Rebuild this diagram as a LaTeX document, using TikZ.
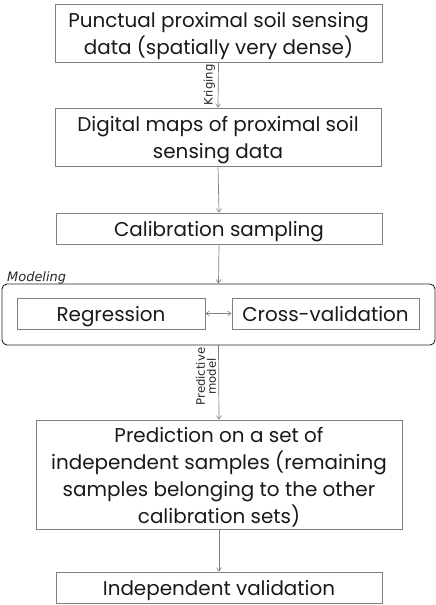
\documentclass[tikz,border=0pt]{standalone}
\usepackage{fontspec}
\setmainfont{Poppins}
\newfontfamily\labelfont{DejaVu Sans}
\usetikzlibrary{arrows.meta}
\definecolor{edgegray}{HTML}{808080}
% fixed ascent for the first line of a box, so that text sits as in a slide layout
\newcommand\lineopen{\rule{0pt}{21bp}}
\tikzset{
  x=1bp, y=-1bp,
  tip/.tip={Straight Barb[length=3.5bp,width=5bp,line width=0.6bp]},
  stepbox/.style={draw=edgegray, line width=0.8bp, inner sep=0pt, align=center,
    font=\fontsize{20}{27}\selectfont, text=black!90,
    execute at begin node={\lineopen},
    execute at end node={\rule[-4.6bp]{0pt}{0pt}}},
  flow/.style={draw=edgegray, line width=0.7bp, -tip},
  sidelabel/.style={font=\labelfont\fontsize{11.7}{11}\selectfont, rotate=90, align=center,
    text=black!85, inner sep=0pt},
}
\begin{document}
\begin{tikzpicture}
\useasboundingbox (0,0) rectangle (436,605);
\node[stepbox, minimum width=327bp, minimum height=58bp] (pts) at (218.5,33)
  {\lineopen Punctual proximal soil sensing\\data (spatially very dense)};
\node[stepbox, minimum width=326bp, minimum height=58bp] (maps) at (218,137)
  {\lineopen Digital maps of proximal soil\\sensing data};
\node[stepbox, minimum width=326bp, minimum height=31bp] (calib) at (219,228.5)
  {Calibration sampling};
\node[draw=black!85, line width=0.9bp, rounded corners=5bp, minimum width=433bp,
  minimum height=61bp, inner sep=0pt] (model) at (218.5,314.5) {};
\node[font=\labelfont\itshape\fontsize{13}{14}\selectfont, anchor=base west,
  text=black!85, inner sep=0pt] (modlabel) at (7,281) {Modeling};
\node[stepbox, minimum width=188bp, minimum height=31bp] (reg) at (111,313.5) {Regression};
\node[stepbox, minimum width=187bp, minimum height=31bp] (cv) at (325.5,313.5) {Cross-validation};
\node[stepbox, minimum width=366bp, minimum height=109bp] (pred) at (219,474.5)
  {\lineopen Prediction on a set of\\independent samples (remaining\\samples belonging to the other\\calibration sets)};
\node[stepbox, minimum width=326bp, minimum height=31bp] (indep) at (219,587.5)
  {Independent validation};

\draw[flow] (pts.south) -- (maps.north);
\draw[flow] (maps.south) -- (calib.north);
\draw[flow] (calib.south) -- (model.north);
\draw[flow, tip-tip] (reg.east) -- (cv.west);
\draw[flow] (model.south) -- (pred.north);
\draw[flow] (pred.south) -- (indep.north);

\node[sidelabel] (krig) at (209.5,85) {Kriging};
\node[sidelabel] (predmod) at (206,376.5) {Predictive\\model};
\end{tikzpicture}
\end{document}
